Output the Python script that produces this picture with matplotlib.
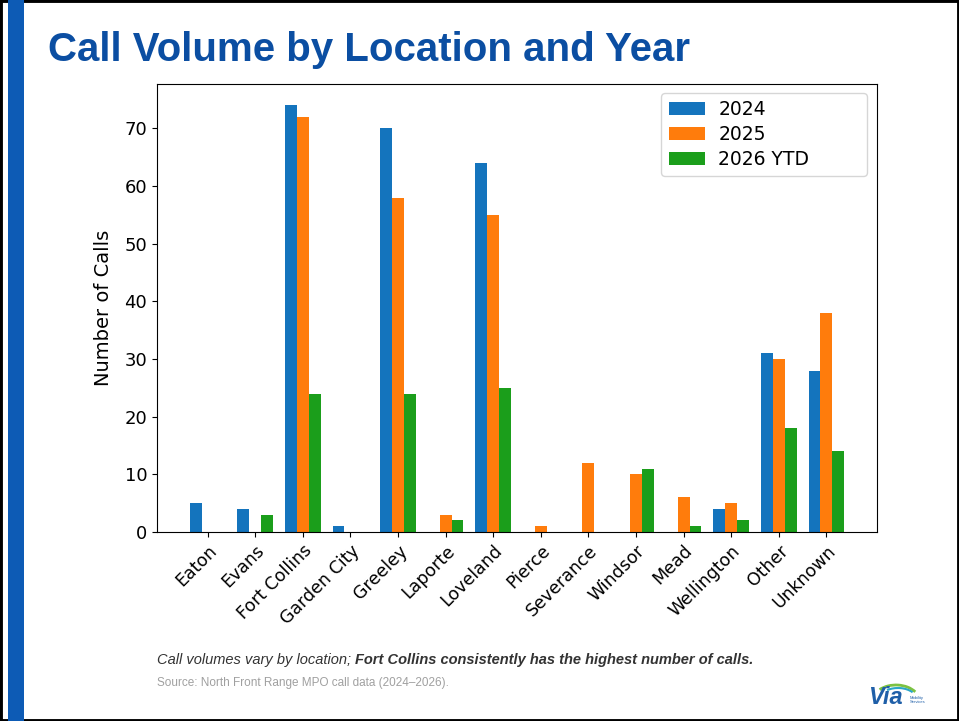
import matplotlib
matplotlib.use("Agg")
import matplotlib.pyplot as plt
from matplotlib.patches import Rectangle, Arc
import numpy as np

# data
locations = ["Eaton", "Evans", "Fort Collins", "Garden City", "Greeley", "Laporte",
             "Loveland", "Pierce", "Severance", "Windsor", "Mead", "Wellington",
             "Other", "Unknown"]
calls_2024 = [5, 4, 74, 1, 70, 0, 64, 0, 0, 0, 0, 4, 31, 28]
calls_2025 = [0, 0, 72, 0, 58, 3, 55, 1, 12, 10, 6, 5, 30, 38]
calls_2026_ytd = [0, 3, 24, 0, 24, 2, 25, 0, 0, 11, 1, 2, 18, 14]
series_labels = ["2024", "2025", "2026 YTD"]
series_colors = ["#1474bd", "#ff7c0c", "#1b9e1b"]

W, H = 959, 721
fig = plt.figure(figsize=(W / 100, H / 100), dpi=100)
fig.patch.set_facecolor("white")

# slide frame + blue accent bar
fig.add_artist(Rectangle((0, 0), 1, 1, transform=fig.transFigure, fill=False,
                         edgecolor="black", linewidth=3.5))
fig.add_artist(Rectangle((8 / W, 0), 16 / W, 1, transform=fig.transFigure,
                         facecolor="#0d5bb5", edgecolor="none"))

fig.text(48 / W, 1 - 50 / H, "Call Volume by Location and Year", fontsize=29,
         fontweight="bold", color="#0b4ea2", family="Liberation Sans",
         ha="left", va="center")

ax = fig.add_axes([157 / W, 1 - 532 / H, 720 / W, 448 / H])
x = np.arange(len(locations))
width = 0.25
for i, (vals, lab, col) in enumerate(zip([calls_2024, calls_2025, calls_2026_ytd],
                                         series_labels, series_colors)):
    ax.bar(x + (i - 1) * width, vals, width, label=lab, color=col)

ax.set_xticks(x)
ax.set_xticklabels(locations, rotation=45, ha="right", rotation_mode="anchor", fontsize=12.5)
ax.tick_params(axis="y", labelsize=13)
ax.set_ylabel("Number of Calls", fontsize=14, labelpad=8)
ax.legend(loc="upper left", bbox_to_anchor=(0.70, 0.5, 0.286, 0.48), mode="expand",
          borderaxespad=0, fontsize=13.5, handlelength=1.95, handleheight=0.7,
          handletextpad=0.7, labelspacing=0.3)

# caption: italic part then bold italic part
fig.canvas.draw()
t1 = fig.text(157 / W, 1 - 660 / H, "Call volumes vary by location; ", fontsize=10.5,
              style="italic", color="#333333", family="Liberation Sans",
              ha="left", va="center")
r = fig.canvas.get_renderer()
bb = t1.get_window_extent(renderer=r)
fig.text(bb.x1 / W, 1 - 660 / H,
         "Fort Collins consistently has the highest number of calls.", fontsize=10.5,
         style="italic", fontweight="bold", color="#333333", family="Liberation Sans",
         ha="left", va="center")
fig.text(157 / W, 1 - 683 / H, "Source: North Front Range MPO call data (2024\u20132026).",
         fontsize=8.5, color="#a0a0a0", family="Liberation Sans", ha="left", va="center")

# small logo
fig.text(868 / W, 1 - 698 / H, "Via", fontsize=17, style="italic", fontweight="bold",
         color="#1f5fa8", family="Liberation Sans", ha="left", va="center")
fig.add_artist(Arc((896 / W, 1 - 702 / H), 48 / W, 34 / H, theta1=35, theta2=135,
                   transform=fig.transFigure, color="#7cc242", linewidth=2))
fig.add_artist(Arc((898 / W, 1 - 700 / H), 38 / W, 24 / H, theta1=35, theta2=130,
                   transform=fig.transFigure, color="#2aa6c8", linewidth=1.5))
fig.text(910 / W, 1 - 700 / H, "Mobility\nServices", fontsize=3, color="#1f5fa8",
         family="Liberation Sans", ha="left", va="center", linespacing=1.1)

fig.savefig("out.png", dpi=100)
